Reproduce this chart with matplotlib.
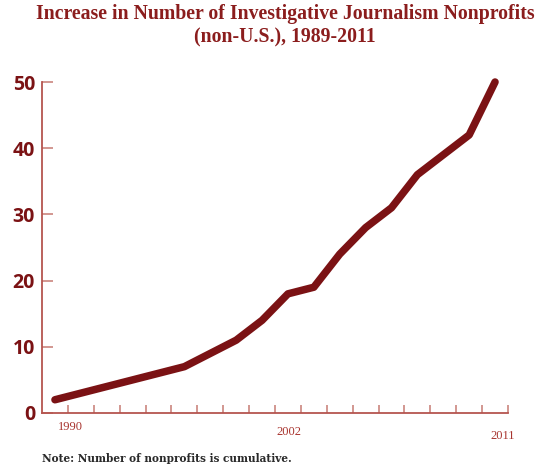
import matplotlib
matplotlib.use("Agg")
import matplotlib.pyplot as plt

# position along the compressed time axis (one tick = one step) and cumulative count
x_pos = [-0.5, 4.5, 6.5, 7.5, 8.5, 9.5, 10.5, 11.5, 12.5, 13.5, 15.5, 16.5]
counts = [2, 7, 11, 14, 18, 19, 24, 28, 31, 36, 42, 50]

y_ticks = [0, 10, 20, 30, 40, 50]
x_ticks = list(range(18))
dark_xticks = [0, 3, 11]
dark_yticks = [20, 50]

year_labels = ["1990", "2002", "2011"]
year_label_pos = [0.1, 8.55, 16.8]

line_col = "#7b1214"
axis_col = "#b5554f"
light_tick = "#cf8f88"
label_col = "#a8342f"

fig = plt.figure(figsize=(5.46, 4.66), dpi=100)
ax = fig.add_axes([42 / 546, 53 / 466, 466 / 546, 331 / 466])

ax.plot(x_pos, counts, color=line_col, lw=5.4, solid_capstyle="round",
        solid_joinstyle="round", clip_on=False, zorder=3)

ax.set_xlim(-1, 17)
ax.set_ylim(0, 50)

for s in ["top", "right"]:
    ax.spines[s].set_visible(False)
for s in ["left", "bottom"]:
    ax.spines[s].set_color(axis_col)
    ax.spines[s].set_linewidth(1.3)

# light ticks as majors, the darker ones drawn as minors on top
ax.set_yticks(y_ticks)
ax.set_yticklabels([str(v) for v in y_ticks], fontweight="bold",
                   family="Open Sans")
ax.set_yticks(dark_yticks, minor=True)
ax.tick_params(axis="y", which="major", direction="in", length=8, width=1.3,
               pad=5, labelsize=14, labelcolor=line_col, color=light_tick)
ax.tick_params(axis="y", which="minor", direction="in", length=8, width=1.3,
               color=line_col)

ax.set_xticks(x_ticks)
ax.set_xticklabels([])
ax.set_xticks(dark_xticks, minor=True)
ax.tick_params(axis="x", which="major", direction="in", length=5.5,
               width=1.3, color=light_tick)
ax.tick_params(axis="x", which="minor", direction="in", length=5.5,
               width=1.3, color=line_col)

# staggered year labels under the axis
y_off = [-14, -19, -23]
for lab, xp, dy in zip(year_labels, year_label_pos, y_off):
    ax.annotate(lab, xy=(xp, 0), xycoords=("data", "axes fraction"),
                xytext=(0, dy), textcoords="offset pixels",
                ha="center", va="center", fontsize=9, color=label_col,
                family="Liberation Serif")

fig.text(285 / 546, 1 - 26 / 466,
         "Increase in Number of Investigative Journalism Nonprofits\n(non-U.S.), 1989-2011",
         ha="center", va="center", fontsize=14.2, fontweight="bold",
         color="#8b1d1d", family="Liberation Serif", linespacing=1.2)

fig.text(42 / 546, 1 - 459 / 466, "Note: Number of nonprofits is cumulative.",
         ha="left", va="center", fontsize=7.6, fontweight="bold",
         color="#2a2a2a", family="DejaVu Serif")

fig.savefig("out.png", dpi=100)
